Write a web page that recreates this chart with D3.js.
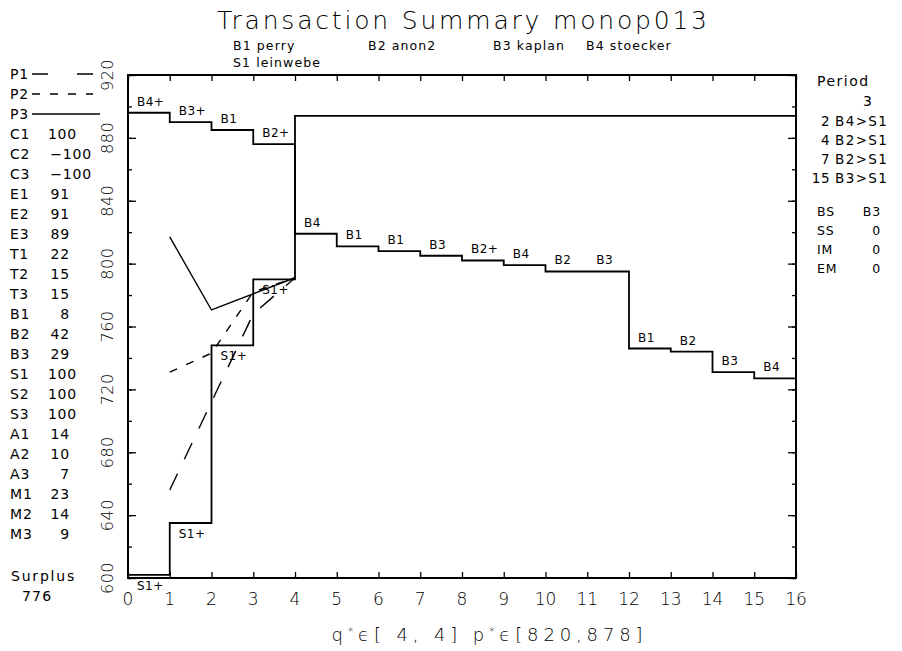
<!DOCTYPE html>
<html>
<head>
<meta charset="utf-8">
<script src="https://cdn.jsdelivr.net/npm/d3@7"></script>
<style>
  body { margin: 0; background: #fff; }
  text { font-family: "DejaVu Sans", "Liberation Sans", sans-serif; font-weight: 400; fill: #000; }
  text.thin { font-weight: 300; }
</style>
</head>
<body>
<svg id="chart" width="902" height="651"></svg>
<script>
// ---- data ----
const titleText = "Transaction Summary monop013";
const traderNames = ["B1 perry", "B2 anon2", "B3 kaplan", "B4 stoecker", "S1 leinwebe"];

const xTickValues = d3.range(0, 17);
const yTickValues = [600, 640, 680, 720, 760, 800, 840, 880, 920];
const yMinorValues = d3.range(600, 921, 20);

// buyer bids, one unit each, in queue order
const demandPrices = [896, 890, 885, 876, 819, 811, 808, 805, 802, 799, 795, 795, 746, 744, 731, 727];
const demandLabels = ["B4+", "B3+", "B1", "B2+", "B4", "B1", "B1", "B3", "B2+", "B4", "B2", "B3", "B1", "B2", "B3", "B4"];

// seller asks
const supplyPrices = [602, 635, 748, 790, 894];
const supplyUnits = [1, 1, 1, 1, 12];
const supplyLabels = ["S1+", "S1+", "S1+", "S1+", ""];

// price paths of the three periods
const pathP1 = [[1, 656], [2, 712], [3, 768], [4, 791]];
const pathP2 = [[1, 731], [2, 743], [3, 782], [4, 791]];
const pathP3 = [[1, 817], [2, 770.5], [4, 791]];

// left-hand parameter table
const paramNames = ["C1", "C2", "C3", "E1", "E2", "E3", "T1", "T2", "T3", "B1", "B2", "B3",
                    "S1", "S2", "S3", "A1", "A2", "A3", "M1", "M2", "M3"];
const paramValues = [100, -100, -100, 91, 91, 89, 22, 15, 15, 8, 42, 29,
                     100, 100, 100, 14, 10, 7, 23, 14, 9];
const surplusValue = 776;

// right-hand period table
const periodNumber = 3;
const tradeSteps = [2, 4, 7, 15];
const tradePairs = ["B4>S1", "B2>S1", "B2>S1", "B3>S1"];
const statNames = ["BS", "SS", "IM", "EM"];
const statValues = ["B3", "0", "0", "0"];

const axisTitleParts = ["q", "*", "ϵ[ 4, 4] p", "*", "ϵ[820,878]"];

// ---- drawing ----
const svg = d3.select("#chart");
const plotLeft = 128, plotRight = 796, plotTop = 75, plotBottom = 578;

const x = d3.scaleLinear().domain([0, 16]).range([plotLeft, plotRight]);
const y = d3.scaleLinear().domain([600, 920]).range([plotBottom, plotTop]);

// title
svg.append("text").attr("class", "thin").attr("x", 462).attr("y", 29).attr("text-anchor", "middle")
  .attr("font-size", 25).attr("textLength", 490).attr("lengthAdjust", "spacing")
  .text(titleText);

// trader names
const nameSlots = [[233, 50], [368, 50], [493, 50], [586, 50], [233, 67]];
traderNames.forEach((n, i) => {
  svg.append("text").attr("x", nameSlots[i][0]).attr("y", nameSlots[i][1])
    .attr("font-size", 12.5).attr("letter-spacing", 1.1).text(n);
});

// axes with inward ticks
const g = svg.append("g");
function tickAxis(axis, tx, ty) {
  const a = g.append("g").attr("transform", `translate(${tx},${ty})`).call(axis);
  a.select(".domain").remove();
  a.selectAll("line").attr("stroke", "#000").attr("stroke-width", 1.3);
  a.selectAll("text").remove();
}
tickAxis(d3.axisLeft(y).tickValues(yTickValues).tickSize(-8), plotLeft, 0);
tickAxis(d3.axisLeft(y).tickValues(yMinorValues).tickSize(-4), plotLeft, 0);
tickAxis(d3.axisRight(y).tickValues(yTickValues).tickSize(-8), plotRight, 0);
tickAxis(d3.axisRight(y).tickValues(yMinorValues).tickSize(-4), plotRight, 0);
tickAxis(d3.axisTop(x).tickValues(xTickValues).tickSize(-6), 0, plotTop);
tickAxis(d3.axisBottom(x).tickValues(xTickValues).tickSize(-6), 0, plotBottom);

g.append("rect").attr("x", plotLeft).attr("y", plotTop)
  .attr("width", plotRight - plotLeft).attr("height", plotBottom - plotTop)
  .attr("fill", "none").attr("stroke", "#000").attr("stroke-width", 2);

// tick labels
svg.append("g").selectAll("text").data(xTickValues).join("text")
  .attr("x", d => x(d)).attr("y", 605).attr("text-anchor", "middle")
  .attr("font-size", 17).attr("class", "thin").text(d => d);

svg.append("g").selectAll("text").data(yTickValues).join("text")
  .attr("transform", d => `translate(113,${y(d)}) rotate(-90)`)
  .attr("text-anchor", "middle").attr("font-size", 16).attr("class", "thin")
  .attr("letter-spacing", 0.5).text(d => d);

// x axis title
const xt = svg.append("text").attr("x", 487).attr("y", 641).attr("class", "thin")
  .attr("text-anchor", "middle").attr("font-size", 18)
  .attr("textLength", 311).attr("lengthAdjust", "spacing");
axisTitleParts.forEach((p, i) => {
  const t = xt.append("tspan").text(p);
  if (p === "*") t.attr("font-size", 11).attr("dy", -6);
  else if (i > 0) t.attr("dy", 6);
});

// step curves
const stepLine = d3.line().x(d => x(d[0])).y(d => y(d[1])).curve(d3.curveStepAfter);

const demandPts = demandPrices.map((p, i) => [i, p]);
demandPts.push([demandPrices.length, demandPrices[demandPrices.length - 1]]);

let cum = 0;
const supplyStarts = supplyUnits.map(u => { const s = cum; cum += u; return s; });
const supplyPts = supplyPrices.map((p, i) => [supplyStarts[i], p]);
supplyPts.push([cum, supplyPrices[supplyPrices.length - 1]]);

const plot = svg.append("g");
plot.append("path").attr("d", stepLine(demandPts))
  .attr("fill", "none").attr("stroke", "#000").attr("stroke-width", 1.8);
plot.append("path").attr("d", stepLine(supplyPts))
  .attr("fill", "none").attr("stroke", "#000").attr("stroke-width", 1.8);

// step labels
plot.selectAll(".dl").data(demandLabels).join("text")
  .attr("x", (d, i) => x(i) + 9).attr("y", (d, i) => y(demandPrices[i]) - 7)
  .attr("font-size", 12).attr("letter-spacing", 0.5).text(d => d);
plot.selectAll(".sl").data(supplyLabels).join("text")
  .attr("x", (d, i) => x(supplyStarts[i]) + 9).attr("y", (d, i) => y(supplyPrices[i]) + 15)
  .attr("font-size", 12).attr("letter-spacing", 0.5).text(d => d);

// period price paths
const pLine = d3.line().x(d => x(d[0])).y(d => y(d[1]));
const pathStyles = [
  { data: pathP1, dash: "18,16" },
  { data: pathP2, dash: "8,10" },
  { data: pathP3, dash: null }
];
pathStyles.forEach(s => {
  plot.append("path").attr("d", pLine(s.data)).attr("fill", "none")
    .attr("stroke", "#000").attr("stroke-width", 1.4)
    .attr("stroke-dasharray", s.dash);
});

// left legend
const lg = svg.append("g");
const rowY = i => 74 + 20 * i;
const legendDash = ["16,29", "8,10", null];
["P1", "P2", "P3"].forEach((name, i) => {
  lg.append("text").attr("x", 10).attr("y", rowY(i) + 5).attr("font-size", 14)
    .attr("letter-spacing", 0.8).text(name);
  lg.append("line").attr("x1", 32).attr("x2", i === 2 ? 100 : 93)
    .attr("y1", rowY(i)).attr("y2", rowY(i))
    .attr("stroke", "#000").attr("stroke-width", 1.4)
    .attr("stroke-dasharray", legendDash[i]);
});
paramNames.forEach((name, k) => {
  const i = k + 3;
  const v = paramValues[k];
  lg.append("text").attr("x", 10).attr("y", rowY(i) + 5).attr("font-size", 14)
    .attr("letter-spacing", 0.8).text(name);
  const endX = v < 0 ? 92 : (v >= 100 ? 77 : 70);
  lg.append("text").attr("x", endX).attr("y", rowY(i) + 5).attr("font-size", 14)
    .attr("text-anchor", "end").attr("letter-spacing", 0.8)
    .text(v < 0 ? "\u2212" + Math.abs(v) : v);
});
lg.append("text").attr("x", 11).attr("y", 581).attr("font-size", 14)
  .attr("letter-spacing", 1.8).text("Surplus");
lg.append("text").attr("x", 22).attr("y", 601).attr("font-size", 14)
  .attr("letter-spacing", 1.2).text(surplusValue);

// right legend
const rg = svg.append("g");
rg.append("text").attr("x", 817).attr("y", 86).attr("font-size", 14)
  .attr("letter-spacing", 1.5).text("Period");
rg.append("text").attr("x", 872).attr("y", 106).attr("font-size", 14)
  .attr("text-anchor", "end").text(periodNumber);
tradeSteps.forEach((s, i) => {
  const yy = 126 + 19 * i;
  rg.append("text").attr("x", 830).attr("y", yy).attr("font-size", 13.5)
    .attr("text-anchor", "end").attr("letter-spacing", 0.5).text(s);
  rg.append("text").attr("x", 835).attr("y", yy).attr("font-size", 13.5)
    .attr("letter-spacing", 1.4).text(tradePairs[i]);
});
statNames.forEach((s, i) => {
  const yy = 216 + 19 * i;
  rg.append("text").attr("x", 817).attr("y", yy).attr("font-size", 12.5)
    .attr("letter-spacing", 0.8).text(s);
  rg.append("text").attr("x", 881).attr("y", yy).attr("font-size", 12.5)
    .attr("text-anchor", "end").attr("letter-spacing", 0.8).text(statValues[i]);
});
</script>
</body>
</html>
